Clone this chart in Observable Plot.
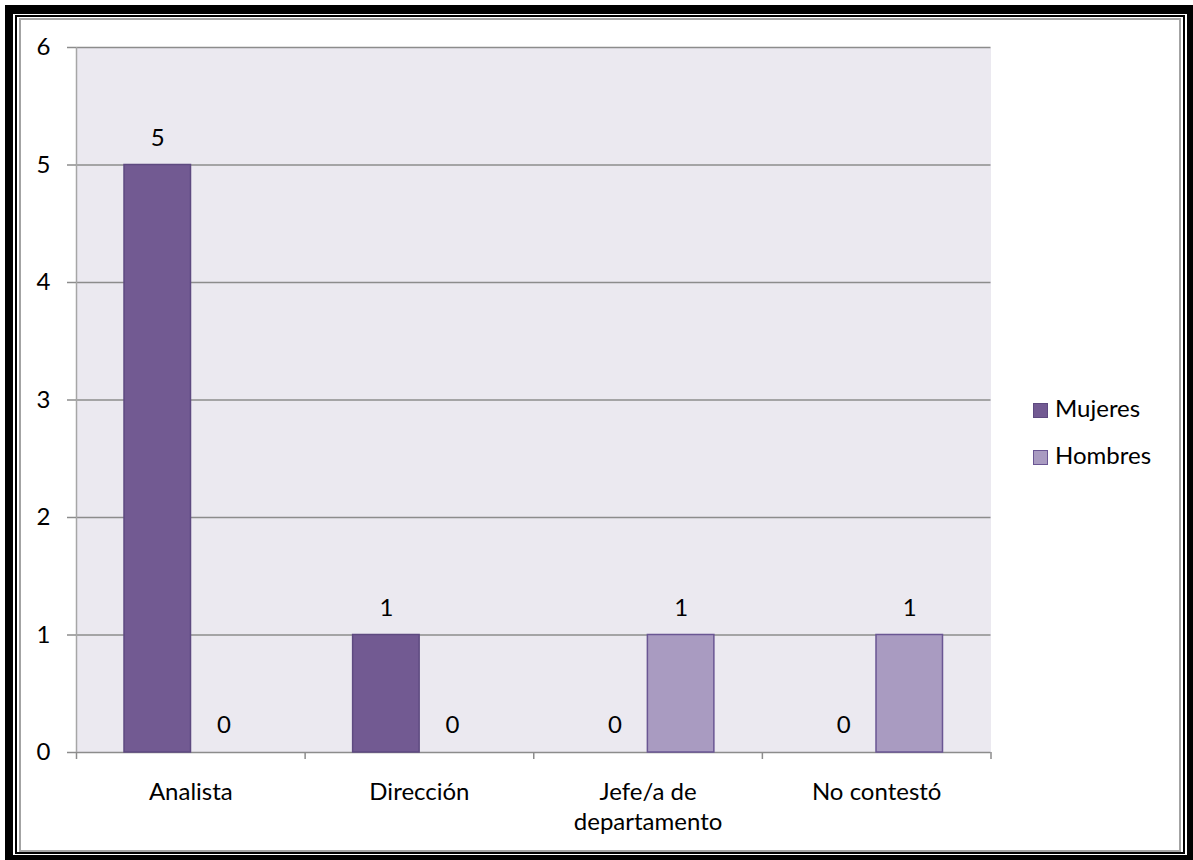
<!DOCTYPE html>
<html>
<head>
<meta charset="utf-8">
<script src="https://cdn.jsdelivr.net/npm/d3@7"></script>
<script src="https://cdn.jsdelivr.net/npm/@observablehq/plot@0.6"></script>
<style>
  html, body { margin: 0; padding: 0; background: white; }
  body { width: 1193px; height: 860px; position: relative; overflow: hidden; font-family: Lato, sans-serif; }
  .abs { position: absolute; box-sizing: border-box; }
  #chart { position: absolute; left: 0; top: 0; z-index: 5; }
  .legend-item { position: absolute; z-index: 6; font-family: Lato, sans-serif; font-size: 24px; line-height: 24px; color: #000; white-space: nowrap; }
  .sw { position: absolute; width: 15px; height: 15px; box-sizing: border-box; z-index: 6; }
</style>
</head>
<body>
<div class="abs" style="left:5px;top:5px;width:1188px;height:855px;background:#000;"></div>
<div class="abs" style="left:13px;top:14px;width:1174px;height:841px;background:#fff;"></div>
<div class="abs" style="left:15px;top:15px;width:1170px;height:839px;border:2px solid #000;background:#fff;"></div>
<div class="abs" style="left:19px;top:18px;width:1162px;height:834px;border:2px solid #a3a3a3;background:#fff;"></div>
<div id="chart"></div>
<div id="legend"></div>
<script>
// ---- data ----
const categories = ["Analista", "Dirección", "Jefe/a de departamento", "No contestó"];
const categoryLabels = ["Analista", "Dirección", "Jefe/a de\ndepartamento", "No contestó"];
const seriesNames = ["Mujeres", "Hombres"];
const mujeres = [5, 1, 0, 0];
const hombres = [0, 0, 1, 1];
const yTicks = [0, 1, 2, 3, 4, 5, 6];

// ---- styles ----
const fills = {Mujeres: "#725A92", Hombres: "#A99BC1"};
const strokes = {Mujeres: "#5E4A80", Hombres: "#6A5693"};
const W = 1193, H = 860, ML = 76, MR = 202.5, MT = 47, MB = 108;
const bw = (W - ML - MR) / categories.length;
const barW = 66.5, outer = 48;
const FONT = 24;

const rows = [];
categories.forEach((c, i) => {
  rows.push({category: c, series: "Mujeres", value: mujeres[i]});
  rows.push({category: c, series: "Hombres", value: hombres[i]});
});
const labelOf = new Map(categories.map((c, i) => [c, categoryLabels[i]]));

const chart = Plot.plot({
  width: W, height: H,
  marginLeft: ML, marginRight: MR, marginTop: MT, marginBottom: MB,
  style: {background: "transparent", fontFamily: "Lato, sans-serif", fontSize: FONT + "px", color: "#000"},
  x: {type: "band", domain: categories, padding: 0, round: false, axis: null},
  y: {domain: [0, 6], axis: null, round: false},
  marks: [
    Plot.frame({fill: "#EBE9F0", stroke: null}),
    Plot.gridY(yTicks, {stroke: "#8C8C8C", strokeOpacity: 1, strokeWidth: 1.5}),
    Plot.ruleX([categories[0]], {x: d => d, dx: -bw / 2, stroke: "#A6A6A6", strokeWidth: 1.5}),
    Plot.ruleX(categories, {x: d => d, y1: 0, y2: 0, insetBottom: -7, dx: -bw / 2, stroke: "#8C8C8C", strokeWidth: 1.5}),
    Plot.ruleX([categories[categories.length - 1]], {x: d => d, y1: 0, y2: 0, insetBottom: -7, dx: bw / 2, stroke: "#8C8C8C", strokeWidth: 1.5}),
    Plot.axisY({ticks: yTicks, tickSize: 9, tickPadding: 17, stroke: "#8C8C8C", strokeWidth: 1.5, fontSize: FONT, fill: "#000", label: null, tickFormat: d => String(d)}),
    Plot.axisX({ticks: categories, tickSize: 0, tickPadding: 26, fontSize: FONT, fill: "#000", lineHeight: 1.25, label: null, tickFormat: d => labelOf.get(d)}),
    Plot.barY(rows.filter(d => d.series === "Mujeres" && d.value > 0), {
      x: "category", y: "value", fill: fills.Mujeres, stroke: strokes.Mujeres, strokeWidth: 1.5,
      insetLeft: outer, insetRight: bw - outer - barW
    }),
    Plot.barY(rows.filter(d => d.series === "Hombres" && d.value > 0), {
      x: "category", y: "value", fill: fills.Hombres, stroke: strokes.Hombres, strokeWidth: 1.5,
      insetLeft: bw - outer - barW, insetRight: outer
    }),
    Plot.text(rows.filter(d => d.series === "Mujeres"), {
      x: "category", y: "value", text: d => String(d.value), dx: -(bw / 2 - outer - barW / 2), dy: -27,
      fontSize: FONT, fill: "#000"
    }),
    Plot.text(rows.filter(d => d.series === "Hombres"), {
      x: "category", y: "value", text: d => String(d.value), dx: (bw / 2 - outer - barW / 2), dy: -27,
      fontSize: FONT, fill: "#000"
    })
  ]
});
document.getElementById("chart").appendChild(chart);

// ---- legend (HTML) ----
const legend = document.getElementById("legend");
const legendTop = [403, 450];
seriesNames.forEach((s, i) => {
  const sw = document.createElement("div");
  sw.className = "sw";
  sw.style.left = "1033px";
  sw.style.top = legendTop[i] + "px";
  sw.style.background = fills[s];
  sw.style.border = "1.5px solid " + strokes[s];
  legend.appendChild(sw);
  const t = document.createElement("div");
  t.className = "legend-item";
  t.style.left = "1055px";
  t.style.top = (legendTop[i] - 7) + "px";
  t.textContent = s;
  legend.appendChild(t);
});
</script>
</body>
</html>
